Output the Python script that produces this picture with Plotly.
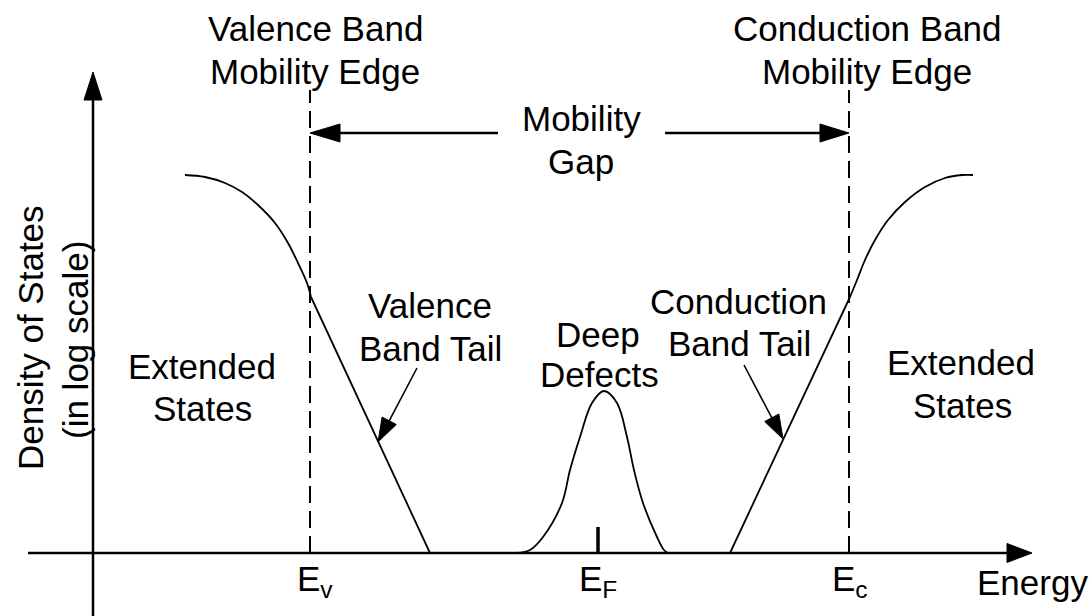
import math
import plotly.graph_objects as go

# schematic DOS of an amorphous semiconductor
# x: energy (a.u.), y: log density of states (a.u.), origin at the axes crossing

valence_band_E = [92, 112, 132, 149, 165, 182, 195, 205, 214, 218]
valence_band_N = [378, 376, 370, 361, 348, 330, 310, 290, 270, 256]
valence_tail_E = [218, 337]
valence_tail_N = [256, 0]

conduction_tail_E = [637, 757]
conduction_tail_N = [0, 256]
conduction_band_E = [757, 764, 772, 782, 795, 812, 832, 852, 869, 880]
conduction_band_N = [256, 273, 293, 313, 333, 351, 366, 375, 378, 378]

defect_E = [424, 437, 450, 469, 477, 487, 499, 511, 524, 534, 541, 550, 564, 571, 575]
defect_N = [0, 3, 16, 50, 83, 116, 150, 162, 150, 116, 83, 50, 16, 3, 0]

E_v, E_F, E_c = 217, 505, 756
edge_top = 463
fermi_tick = 26

# arrows: (start x, start y, tip x, tip y, head length, head width, line width)
arrows = [
    (0, -63, 0, 481, 28, 18, 2.5),        # DOS axis
    (-65, 0, 939, 0, 25, 19, 2.5),        # energy axis
    (405, 420, E_v, 420, 30, 18, 2.5),    # mobility gap, left
    (572, 420, E_c, 420, 29, 18, 2.5),    # mobility gap, right
    (324, 185, 285, 111, 24, 16, 1.6),    # valence tail pointer
    (651, 188, 690, 114, 24, 16, 1.6),    # conduction tail pointer
]

label_text = ["Valence Band", "Mobility Edge", "Conduction Band", "Mobility Edge",
              "Mobility", "Gap", "Valence", "Band Tail", "Conduction", "Band Tail",
              "Deep", "Defects", "Extended", "States", "Extended", "States",
              "E<sub>v</sub>", "E<sub>F</sub>", "E<sub>c</sub>", "Energy"]
label_x = [222, 222, 774, 774, 488, 488, 337, 337, 645, 646,
           505, 506, 109, 109, 868, 869, 222, 505, 757, 939]
label_y = [525, 482, 525, 482, 435, 392, 248, 205, 252, 210,
           219, 179, 187, 145, 191, 148, -28, -28, -28, -29]

ylab_text = ["Density of States", "(in log scale)"]
ylab_x = [-63, -18]
ylab_y = [215, 213]

FONT = dict(family="Liberation Sans, Arial, sans-serif", size=35, color="black")

fig = go.Figure()


def curve(x, y, width=1.8, shape="linear", dash=None):
    fig.add_trace(go.Scatter(x=x, y=y, mode="lines",
                             line=dict(color="black", width=width, shape=shape, dash=dash),
                             hoverinfo="skip"))


curve(valence_band_E, valence_band_N, shape="spline")
curve(valence_tail_E, valence_tail_N)
curve(conduction_tail_E, conduction_tail_N)
curve(conduction_band_E, conduction_band_N, shape="spline")
curve(defect_E, defect_N, shape="spline")
curve([E_F, E_F], [0, fermi_tick], width=3.5)
curve([E_v, E_v], [0, edge_top], width=2, dash="17px,8px")
curve([E_c, E_c], [0, edge_top], width=2, dash="17px,8px")

for x0, y0, x1, y1, L, W, lw in arrows:
    d = math.hypot(x1 - x0, y1 - y0)
    ux, uy = (x1 - x0) / d, (y1 - y0) / d
    bx, by = x1 - ux * L, y1 - uy * L
    curve([x0, bx + ux * 2], [y0, by + uy * 2], width=lw)
    px, py = -uy * W / 2, ux * W / 2
    fig.add_trace(go.Scatter(x=[x1, bx + px, bx - px, x1], y=[y1, by + py, by - py, y1],
                             mode="lines", fill="toself", fillcolor="black",
                             line=dict(color="black", width=1), hoverinfo="skip"))

for t, x, y in zip(label_text, label_x, label_y):
    fig.add_annotation(x=x, y=y, text=t, showarrow=False, font=FONT,
                       xanchor="center", yanchor="middle")

for t, x, y in zip(ylab_text, ylab_x, ylab_y):
    fig.add_annotation(x=x, y=y, text=t, showarrow=False, font=FONT, textangle=-90,
                       xanchor="center", yanchor="middle")

fig.update_layout(
    width=1092, height=616,
    margin=dict(l=0, r=0, t=0, b=0),
    paper_bgcolor="white", plot_bgcolor="white",
    showlegend=False,
    xaxis=dict(range=[-93, 999], visible=False, fixedrange=True),
    yaxis=dict(range=[-63, 553], visible=False, fixedrange=True),
)

fig.write_html("out.html", config={"displayModeBar": False},
               post_script="document.body.style.margin='0';")
